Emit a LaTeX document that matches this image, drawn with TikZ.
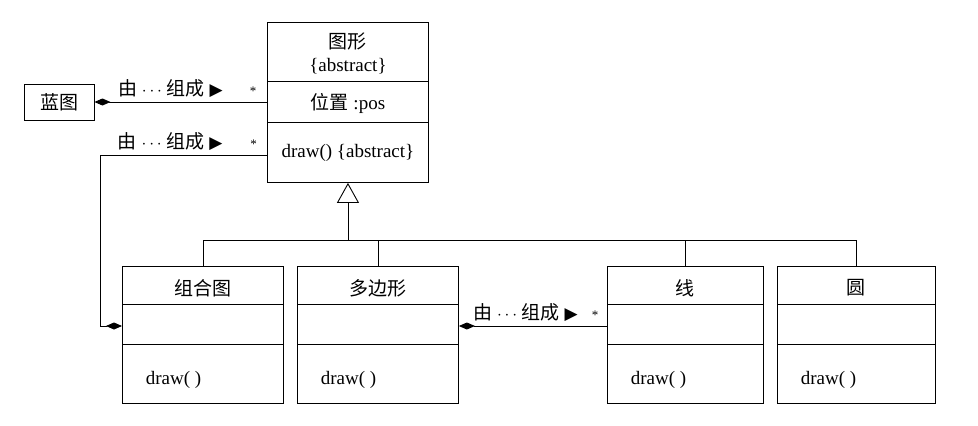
\documentclass[tikz,border=0pt]{standalone}
\usepackage{fontspec}
\setmainfont{Liberation Serif}
\newfontfamily\cjk{Noto Sans CJK SC}
\newfontfamily\symf{DejaVu Sans}
\usetikzlibrary{arrows.meta,calc}
\newcommand{\zh}[1]{{\cjk #1}}
\newcommand{\madeof}{\zh{由} \(\cdots\) \zh{组成} {\symf\fontsize{17}{17}\selectfont ▶}}

\begin{document}
\begin{tikzpicture}[
        x=1pt, y=-1pt,
        line width=0.9pt,
        font=\fontsize{19}{22}\selectfont,
        Agg/.tip={Diamond[length=16pt,width=7pt]},
        Gen/.tip={Triangle[open,length=20pt,width=22pt]},
        classbox/.style={draw, inner sep=0pt, anchor=north west},
        mult/.style={above=3pt, font=\fontsize{13}{13}\selectfont}
    ]
        \useasboundingbox (0,0) rectangle (978,426);

        % abstract base class
        \node[classbox, minimum width=161pt, minimum height=160pt] (shape) at (267,22) {};
        \draw (shape.north west) ++(0,59) -- ++(161,0);
        \draw (shape.north west) ++(0,100) -- ++(161,0);
        \node (shape-name) at ($(shape.north)+(0,19)$) {\zh{图形}};
        \node (shape-abs) at ($(shape.north)+(0,44)$) {\{abstract\}};
        \node (shape-attr) at ($(shape.north)+(0,81)$) {\zh{位置} :pos};
        \node (shape-op) at ($(shape.north)+(0,131)$) {draw() \{abstract\}};

        % blueprint
        \node[draw, minimum width=70pt, minimum height=36pt] (plan) at (59,102) {\zh{蓝图}};
        \draw[Agg-] (plan.east) -- (plan.east -| shape.west)
            node[pos=0.44, above=1pt] (plan-lab) {\madeof}
            node[pos=0.92, mult] (plan-mult) {*};

        % subclasses
        \foreach \n/\x/\w/\lab in {comp/122/161/组合图, poly/297/161/多边形, lin/607/156/线, circ/777/158/圆} {
            \node[classbox, minimum width=\w pt, minimum height=137pt] (\n) at (\x,266) {};
            \draw (\n.north west) ++(0,38) -- ++(\w,0);
            \draw (\n.north west) ++(0,78) -- ++(\w,0);
            \node (\n-name) at ($(\n.north)+(0,22)$) {\zh{\lab}};
            \node[anchor=west] (\n-op) at ($(\n.north west)+(20,114)$) {draw( )};
        }

        % generalization
        \coordinate (bus) at ($(shape.south)+(0,58)$);
        \draw[-Gen] (bus) -- (shape.south);
        \draw (comp.north) -- (comp.north |- bus) -- (circ.north |- bus) -- (circ.north);
        \draw (poly.north) -- (poly.north |- bus);
        \draw (lin.north) -- (lin.north |- bus);

        % composite made of shapes
        \coordinate (shape-op-w) at ($(shape.north west)+(0,133)$);
        \coordinate (comp-w) at ($(comp.north west)+(0,60)$);
        \draw[-Agg] (shape-op-w) -- ++(-167,0)
            node[pos=0.58, above=1pt] (comp-lab) {\madeof}
            node[pos=0.08, mult] (comp-mult) {*}
            |- (comp-w);

        % polygon made of lines
        \coordinate (poly-e) at ($(poly.north east)+(0,60)$);
        \draw[Agg-] (poly-e) -- (poly-e -| lin.west)
            node[pos=0.45, above=1pt] (poly-lab) {\madeof}
            node[pos=0.92, mult] (poly-mult) {*};
    \end{tikzpicture}
\end{document}
